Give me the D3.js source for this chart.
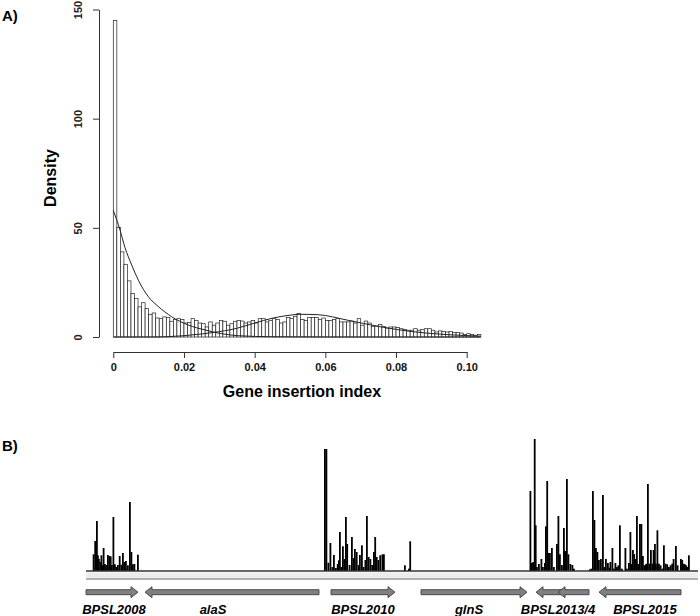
<!DOCTYPE html>
<html>
<head>
<meta charset="utf-8">
<script src="https://cdn.jsdelivr.net/npm/d3@7"></script>
<style>
  body { margin: 0; background: #fff; }
  svg { font-family: "Liberation Sans", Arial, sans-serif; }
</style>
</head>
<body>
<div class="vis"></div>
<script>
// ---- panel A: histogram of gene insertion index (bin width 0.001)
const binWidth = 0.001;
const densities = [
  145, 50.2, 39, 33.3, 25.7, 19.9, 17.6, 13.8, 15.7, 13,
  10.4, 11, 8.7, 8.4, 9.2, 8.9, 7.2, 8, 8.4, 8,
  6.4, 6.6, 8.4, 7.6, 6.4, 6.1, 4.6, 6.9, 5.4, 6.4,
  7.6, 7.2, 5.4, 6.1, 7.2, 7.6, 7.3, 6.4, 6.9, 7.6,
  6.4, 8.4, 8.4, 6.9, 7.6, 8.4, 8, 6.4, 6.9, 8.9,
  8.4, 9.5, 10.7, 8, 7.6, 8.9, 8.9, 8.9, 8, 8.7,
  7.6, 7.6, 8, 8.4, 6.9, 6.9, 6.9, 7.3, 6.4, 8.4,
  5.4, 7.3, 6.4, 4.9, 5, 5.7, 4.9, 4.1, 4.6, 4.6,
  4.3, 3.8, 3.4, 3.1, 3.1, 3.8, 3.1, 3.5, 3.8, 3.8,
  3.1, 2.3, 2.8, 2.6, 2.3, 2.6, 2, 2, 1.8, 1.2,
  1.5, 1.1, 0.8, 1.2
];
// fitted densities, points
const essentialCurve = [
  [0, 58], [0.0019, 49], [0.0033, 41], [0.0052, 33], [0.0071, 26], [0.0099, 18.5],
  [0.0127, 14], [0.0165, 9.3], [0.0212, 5.5], [0.026, 3.2], [0.0307, 1.5],
  [0.0354, 0.6], [0.045, 0.1], [0.06, 0], [0.104, 0]
];
const nonEssentialCurve = [
  [0, 0], [0.012, 0], [0.016, 0.2], [0.02, 0.6], [0.025, 1.4], [0.028, 2], [0.035, 4],
  [0.04, 6.4], [0.045, 8.6], [0.05, 10], [0.0528, 10.4], [0.058, 10.2],
  [0.066, 7.8], [0.0755, 4.7], [0.0849, 2.4], [0.0944, 1.1], [0.1038, 0.4]
];
const xTicksA = [0, 0.02, 0.04, 0.06, 0.08, 0.10];
const yTicksA = [0, 50, 100, 150];

// ---- panel B: insertion reads along the locus (bp from left end of window)
const readPos = [
  134, 166, 200, 220, 240, 270, 290, 310, 334, 360, 390, 420, 450, 476, 500, 530, 560, 590,
  620, 656, 690, 720, 750, 780, 820, 860, 890, 920, 950, 1020,
  4760, 4790, 4830, 4870, 4910, 4940, 4980, 5016, 5040, 5060, 5090, 5120, 5150, 5180, 5206,
  5254, 5300, 5334, 5360, 5396, 5434, 5460, 5500, 5534, 5570, 5600, 5634, 5670, 5706, 5740,
  5766, 5796, 5830, 5866, 5910, 5940, 6360, 6440, 6466,
  8870, 8900, 8926, 8956, 8976, 9000, 9040, 9090, 9120, 9160, 9180, 9206, 9230, 9260, 9300,
  9340, 9400, 9430, 9460, 9500, 9540, 9560, 9580, 9600, 9630, 9670, 9710, 9740,
  10060, 10090, 10120, 10150, 10180, 10210, 10240, 10280, 10320, 10350, 10380, 10420, 10450,
  10470, 10510, 10540, 10570, 10600, 10630, 10660, 10700, 10770, 10800, 10840, 10870, 10900,
  10920, 10946, 10974, 11000, 11026, 11060, 11090, 11120, 11150, 11180, 11200, 11220, 11250,
  11280, 11310, 11334, 11360, 11380, 11410, 11440, 11474, 11510, 11540, 11574, 11606, 11640,
  11674, 11706, 11734, 11780, 11814, 11880, 11906, 11934, 11960, 11986, 12010, 12040
];
const readCount = [
  16.7, 30, 50, 15.7, 12, 9, 15.7, 6, 23, 7, 6, 16, 15, 14.7, 6, 54, 6.7, 4,
  6, 15, 6.3, 18, 9, 10, 5.7, 69, 19, 6.7, 7, 16.3,
  122, 122, 8.3, 28, 4, 16, 3, 7, 10.7, 39, 4, 24.7, 12, 54, 27,
  6, 34, 13, 22, 19, 6, 16, 25.7, 4, 11, 55, 14, 12, 6, 19,
  34, 14, 11, 15.7, 16.7, 16.7, 5.7, 2.3, 29.7,
  80, 8, 9, 132, 45.7, 4, 7, 12, 4, 8, 44.7, 90, 18, 18, 23,
  4, 27, 55, 16.7, 6, 43, 20, 20, 92, 16.7, 7, 6, 2.3,
  1.7, 2.3, 80, 51, 23, 19, 11, 12, 76, 4, 12, 8, 3.3,
  9, 23, 2.3, 8, 4, 5.7, 45.7, 2.3, 23, 2.3, 8, 39, 7,
  21, 17, 12, 55, 7, 47, 47, 15, 5.7, 6.7, 7.3, 87, 7.3,
  21, 7.3, 21, 27, 7.3, 40.7, 7.3, 5.7, 2.3, 25.7, 7.3, 6.7, 4,
  5.7, 7.3, 12, 25, 5.7, 12, 11, 7.3, 6.7, 5.7, 4, 15.7
];
const geneNames = ["BPSL2008", "alaS", "BPSL2010", "glnS", "BPSL2013", "BPSL2014", "BPSL2015"];
const geneStart = [0, 1180, 4900, 6700, 9000, 9440, 10260];
const geneEnd = [1040, 4660, 6180, 8820, 9600, 10060, 11900];
const geneStrand = [1, -1, 1, 1, -1, -1, -1];
const geneLabels = ["BPSL2008", "alaS", "BPSL2010", "glnS", "BPSL2013/4", "BPSL2015"];
const geneLabelPos = [560, 2540, 5540, 7660, 9440, 11180];

const width = 700, height = 616;
const svg = d3.select(".vis").append("svg")
  .attr("width", width).attr("height", height)
  .attr("viewBox", [0, 0, width, height]);

// ================= A) =================
const x = d3.scaleLinear().domain([0, 0.1]).range([113.3, 466.7]);
const y = d3.scaleLinear().domain([0, 150]).range([337, 9.5]);

const bins = densities.map((d, i) => ({x0: i * binWidth, x1: (i + 1) * binWidth, density: d}));

svg.append("g")
  .selectAll("rect")
  .data(bins)
  .join("rect")
  .attr("x", d => x(d.x0))
  .attr("y", d => y(d.density))
  .attr("width", d => x(d.x1) - x(d.x0))
  .attr("height", d => y(0) - y(d.density))
  .attr("fill", "white")
  .attr("stroke", "#222")
  .attr("stroke-width", 0.7);

const line = d3.line()
  .x(d => x(d[0]))
  .y(d => y(d[1]))
  .curve(d3.curveMonotoneX);

[essentialCurve, nonEssentialCurve].forEach(c => {
  svg.append("path")
    .attr("d", line(c))
    .attr("fill", "none")
    .attr("stroke", "#222")
    .attr("stroke-width", 1);
});

// axes, R style
const xAxis = svg.append("g")
  .attr("transform", "translate(0,352)")
  .call(d3.axisBottom(x).tickValues(xTicksA).tickSize(6).tickSizeOuter(0).tickPadding(5)
    .tickFormat(d => d === 0 ? "0" : d3.format(".2f")(d)));
xAxis.selectAll(".tick text").attr("font-size", 11).attr("font-weight", "bold").attr("fill", "#111");
xAxis.selectAll("path, line").attr("stroke", "#333");

const yAxis = svg.append("g")
  .attr("transform", "translate(99,0)")
  .call(d3.axisLeft(y).tickValues(yTicksA).tickSize(6).tickSizeOuter(0));
yAxis.selectAll(".tick text")
  .attr("transform", "rotate(-90)")
  .attr("x", 0).attr("y", -17).attr("dy", 0)
  .attr("text-anchor", "middle")
  .attr("font-size", 11).attr("font-weight", "bold").attr("fill", "#222");
yAxis.selectAll("path, line").attr("stroke", "#333");

svg.append("text")
  .attr("x", 302).attr("y", 397)
  .attr("text-anchor", "middle")
  .attr("font-size", 16).attr("font-weight", "bold")
  .text("Gene insertion index");

svg.append("text")
  .attr("transform", "translate(56,178) rotate(-90)")
  .attr("text-anchor", "middle")
  .attr("font-size", 16).attr("font-weight", "bold")
  .text("Density");

svg.append("text").attr("x", 2).attr("y", 21)
  .attr("font-size", 15).attr("font-weight", "bold").text("A)");

// ================= B) =================
svg.append("text").attr("x", 2).attr("y", 451)
  .attr("font-size", 15).attr("font-weight", "bold").text("B)");

const gx = d3.scaleLinear().domain([0, 12240]).range([86, 698]);
const gy = d3.scaleLinear().domain([0, 140]).range([571, 431]);
const readBin = 36;

// track background
svg.append("rect")
  .attr("x", gx(0)).attr("y", 572.5)
  .attr("width", gx(12240) - gx(0)).attr("height", 5.5)
  .attr("fill", "#ececec");
svg.append("line")
  .attr("x1", gx(0)).attr("x2", gx(12240))
  .attr("y1", 579).attr("y2", 579)
  .attr("stroke", "#999").attr("stroke-width", 1.4);

svg.append("g")
  .selectAll("rect")
  .data(readPos.map((p, i) => ({pos: p, count: readCount[i]})))
  .join("rect")
  .attr("x", d => gx(d.pos))
  .attr("y", d => gy(d.count))
  .attr("width", gx(readBin) - gx(0))
  .attr("height", d => gy(0) - gy(d.count))
  .attr("fill", "#000");

svg.append("line")
  .attr("x1", gx(0)).attr("x2", gx(12240))
  .attr("y1", 571).attr("y2", 571)
  .attr("stroke", "#333").attr("stroke-width", 1.5);

// gene arrows
const arrowY = 592.2, bodyH = 5, headH = 11, headL = 7;
function arrowPath(s, e, strand) {
  const x0 = gx(s), x1 = gx(e);
  if (strand > 0) {
    return `M${x0},${arrowY - bodyH / 2}L${x1 - headL},${arrowY - bodyH / 2}L${x1 - headL},${arrowY - headH / 2}` +
      `L${x1},${arrowY}L${x1 - headL},${arrowY + headH / 2}L${x1 - headL},${arrowY + bodyH / 2}L${x0},${arrowY + bodyH / 2}Z`;
  }
  return `M${x1},${arrowY - bodyH / 2}L${x0 + headL},${arrowY - bodyH / 2}L${x0 + headL},${arrowY - headH / 2}` +
    `L${x0},${arrowY}L${x0 + headL},${arrowY + headH / 2}L${x0 + headL},${arrowY + bodyH / 2}L${x1},${arrowY + bodyH / 2}Z`;
}
svg.append("g")
  .selectAll("path")
  .data(geneNames.map((n, i) => ({name: n, s: geneStart[i], e: geneEnd[i], strand: geneStrand[i]})))
  .join("path")
  .attr("d", d => arrowPath(d.s, d.e, d.strand))
  .attr("fill", "#808080")
  .attr("stroke", "#404040")
  .attr("stroke-width", 0.9);

svg.append("g")
  .selectAll("text")
  .data(geneLabels)
  .join("text")
  .attr("x", (d, i) => gx(geneLabelPos[i]))
  .attr("y", 614)
  .attr("text-anchor", "middle")
  .attr("font-size", 13).attr("font-weight", "bold").attr("font-style", "italic")
  .text(d => d);
</script>
</body>
</html>
